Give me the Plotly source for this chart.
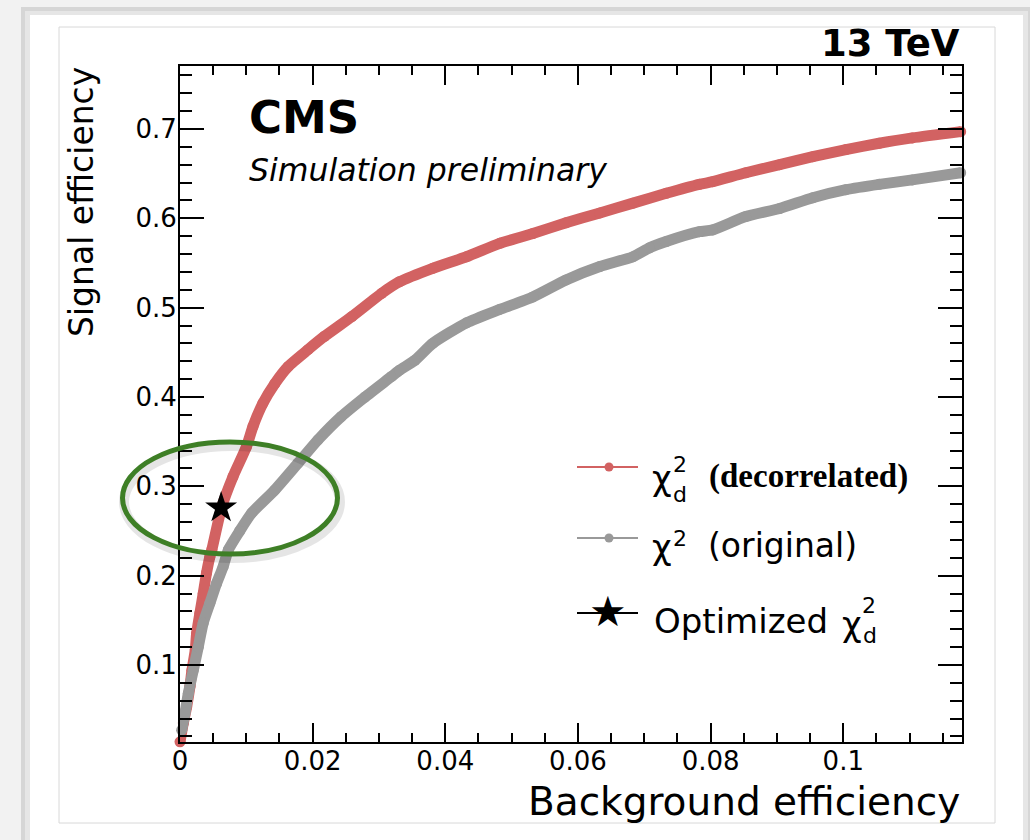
import plotly.graph_objects as go

# ROC curves: background efficiency (x) vs signal efficiency (y)
bkg_eff_decor = [0.0, 0.0005, 0.001, 0.0015, 0.0018, 0.0023, 0.0025, 0.003, 0.0035, 0.004,
                 0.0045, 0.0048, 0.0063, 0.0080, 0.0100, 0.0110, 0.0125, 0.0143, 0.0163, 0.0193,
                 0.0218, 0.0259, 0.0304, 0.0331, 0.0381, 0.0432, 0.0482, 0.0532, 0.0582, 0.0633,
                 0.0683, 0.0733, 0.0783, 0.0803, 0.0853, 0.0904, 0.0954, 0.1004, 0.1054, 0.1104,
                 0.1177]
sig_eff_decor = [0.014, 0.035, 0.053, 0.076, 0.094, 0.117, 0.135, 0.158, 0.180, 0.203,
                 0.221, 0.229, 0.277, 0.311, 0.344, 0.367, 0.393, 0.415, 0.434, 0.453,
                 0.468, 0.490, 0.516, 0.529, 0.544, 0.557, 0.572, 0.583, 0.595, 0.606,
                 0.617, 0.628, 0.638, 0.641, 0.651, 0.660, 0.669, 0.677, 0.684, 0.690,
                 0.697]

bkg_eff_orig = [0.00025, 0.00075, 0.00125, 0.002, 0.00275, 0.0035, 0.0045, 0.0055, 0.0065, 0.0073,
                0.0090, 0.0108, 0.0143, 0.0178, 0.0208, 0.0243, 0.0279, 0.0319, 0.0331, 0.0354,
                0.0381, 0.0432, 0.0482, 0.0532, 0.0582, 0.0633, 0.0683, 0.0708, 0.0733, 0.0783,
                0.0803, 0.0853, 0.0904, 0.0954, 0.1004, 0.1054, 0.1104, 0.1177]
sig_eff_orig = [0.027, 0.046, 0.068, 0.094, 0.120, 0.147, 0.169, 0.191, 0.210, 0.229,
                0.250, 0.270, 0.296, 0.326, 0.352, 0.378, 0.400, 0.423, 0.430, 0.441,
                0.460, 0.483, 0.498, 0.512, 0.531, 0.546, 0.557, 0.567, 0.574, 0.585,
                0.587, 0.602, 0.611, 0.623, 0.632, 0.638, 0.643, 0.651]

# optimized working point on the decorrelated curve
opt_bkg = [0.0062]
opt_sig = [0.276]

x_tick_vals = [0, 0.02, 0.04, 0.06, 0.08, 0.1]
x_tick_text = ["0", "0.02", "0.04", "0.06", "0.08", "0.1"]
y_tick_vals = [0.1, 0.2, 0.3, 0.4, 0.5, 0.6, 0.7]
y_tick_text = ["0.1", "0.2", "0.3", "0.4", "0.5", "0.6", "0.7"]

RED = "#d26262"
GRAY = "#999999"
GREEN = "#3e7f26"
SANS = "DejaVu Sans"
SERIF = "Liberation Serif"

W, H = 1030, 840
L, R, T, B = 180, 962, 66, 742


def fx(px):
    return (px - L) / (R - L)


def fy(py):
    return (B - py) / (B - T)


fig = go.Figure()

fig.add_trace(go.Scatter(
    x=bkg_eff_decor, y=sig_eff_decor, mode="lines+markers",
    line=dict(color=RED, width=11, shape="spline", smoothing=0.6),
    marker=dict(size=11, color=RED),
    showlegend=False, cliponaxis=False, hoverinfo="skip"))
fig.add_trace(go.Scatter(
    x=bkg_eff_orig, y=sig_eff_orig, mode="lines+markers",
    line=dict(color=GRAY, width=11, shape="spline", smoothing=0.6),
    marker=dict(size=11, color=GRAY),
    showlegend=False, cliponaxis=False, hoverinfo="skip"))
fig.add_trace(go.Scatter(
    x=opt_bkg, y=opt_sig, mode="markers",
    marker=dict(symbol="star", size=24, color="black", line=dict(width=0)),
    showlegend=False, cliponaxis=False, hoverinfo="skip"))

shapes = []
# page card with a soft edge shadow
shapes.append(dict(type="rect", xref="paper", yref="paper", layer="below",
                   x0=fx(21), x1=fx(1031), y0=fy(845), y1=fy(7),
                   fillcolor="#d6d6d6", line=dict(width=0)))
shapes.append(dict(type="rect", xref="paper", yref="paper", layer="below",
                   x0=fx(25), x1=fx(1028), y0=fy(845), y1=fy(11),
                   fillcolor="#e6e6e6", line=dict(width=0)))
shapes.append(dict(type="rect", xref="paper", yref="paper", layer="below",
                   x0=fx(30), x1=fx(1023), y0=fy(845), y1=fy(15),
                   fillcolor="white", line=dict(width=0)))
shapes.append(dict(type="rect", xref="paper", yref="paper", layer="below",
                   x0=fx(59), x1=fx(995), y0=fy(823), y1=fy(27),
                   fillcolor="rgba(0,0,0,0)", line=dict(color="#d8d8d8", width=1)))

# highlight ring around the working point
shapes.append(dict(type="circle", xref="paper", yref="paper", layer="above",
                   x0=fx(124), x1=fx(340), y0=fy(558), y1=fy(446),
                   line=dict(color="rgba(0,0,0,0.10)", width=10)))
shapes.append(dict(type="circle", xref="paper", yref="paper", layer="above",
                   x0=fx(122.5), x1=fx(337.5), y0=fy(554), y1=fy(442),
                   line=dict(color=GREEN, width=5)))

# legend samples
for ly, col in [(467, RED), (538, GRAY), (613, "black")]:
    shapes.append(dict(type="line", xref="paper", yref="paper", layer="above",
                       x0=fx(577), x1=fx(638), y0=fy(ly), y1=fy(ly),
                       line=dict(color=col, width=2)))
for ly, col in [(467, RED), (538, GRAY)]:
    shapes.append(dict(type="circle", xref="paper", yref="paper", layer="above",
                       x0=fx(604.5), x1=fx(613.5), y0=fy(ly + 4.5), y1=fy(ly - 4.5),
                       fillcolor=col, line=dict(color=col, width=0)))

annotations = []


def label(text, px, py, size, xanchor="left", family=SANS, angle=0):
    annotations.append(dict(
        text=text, xref="paper", yref="paper", x=fx(px), y=fy(py),
        xanchor=xanchor, yanchor="middle", showarrow=False, textangle=angle,
        font=dict(family=family, size=size, color="black")))


label("<b>13 TeV</b>", 962, 44, 37, xanchor="right")
label("<b>CMS</b>", 247, 117, 45)
label("<i>Simulation preliminary</i>", 247, 170, 31.5)
label("Signal efficiency", 81, 202, 33, xanchor="center", angle=-90)
label("Background efficiency", 962, 801, 39, xanchor="right")

# legend text
label("χ", 662, 478, 34, xanchor="center")
label("2", 680, 464, 22, xanchor="center")
label("d", 680, 494, 22, xanchor="center")
label("<b>(decorrelated)</b>", 707, 477, 33, family=SERIF)

label("χ", 662, 547, 34, xanchor="center")
label("2", 680, 538, 22, xanchor="center")
label("(original)", 706, 545, 33)

label("★", 608, 611, 42, xanchor="center")
label("Optimized", 652, 621, 34)
label("χ", 852, 624, 34, xanchor="center")
label("2", 869, 605, 22, xanchor="center")
label("d", 870, 635, 22, xanchor="center")

fig.update_layout(
    width=W, height=H,
    margin=dict(l=L, r=W - R, t=T, b=H - B, pad=0),
    paper_bgcolor="#f2f2f2",
    plot_bgcolor="rgba(0,0,0,0)",
    shapes=shapes,
    annotations=annotations,
    showlegend=False,
    font=dict(family=SANS, color="black"),
)

fig.update_xaxes(
    range=[0, 0.1179], showgrid=False, zeroline=False,
    showline=True, linecolor="black", linewidth=2, mirror="allticks",
    ticks="inside", ticklen=19, tickwidth=2, tickcolor="black",
    tickmode="array", tickvals=x_tick_vals, ticktext=x_tick_text,
    tickfont=dict(family=SANS, size=26, color="black"), ticklabelstandoff=-5,
    minor=dict(ticks="inside", ticklen=9, tickwidth=1.5, tickcolor="black",
               tickmode="linear", tick0=0, dtick=0.005, showgrid=False),
)
fig.update_yaxes(
    range=[0.0138, 0.7705], showgrid=False, zeroline=False,
    showline=True, linecolor="black", linewidth=2, mirror="allticks",
    ticks="inside", ticklen=24, tickwidth=2, tickcolor="black",
    tickmode="array", tickvals=y_tick_vals, ticktext=y_tick_text,
    tickfont=dict(family=SANS, size=26, color="black"), ticklabelstandoff=-4,
    minor=dict(ticks="inside", ticklen=12, tickwidth=1.5, tickcolor="black",
               tickmode="linear", tick0=0, dtick=0.02, showgrid=False),
)

fig.write_html("out.html")
